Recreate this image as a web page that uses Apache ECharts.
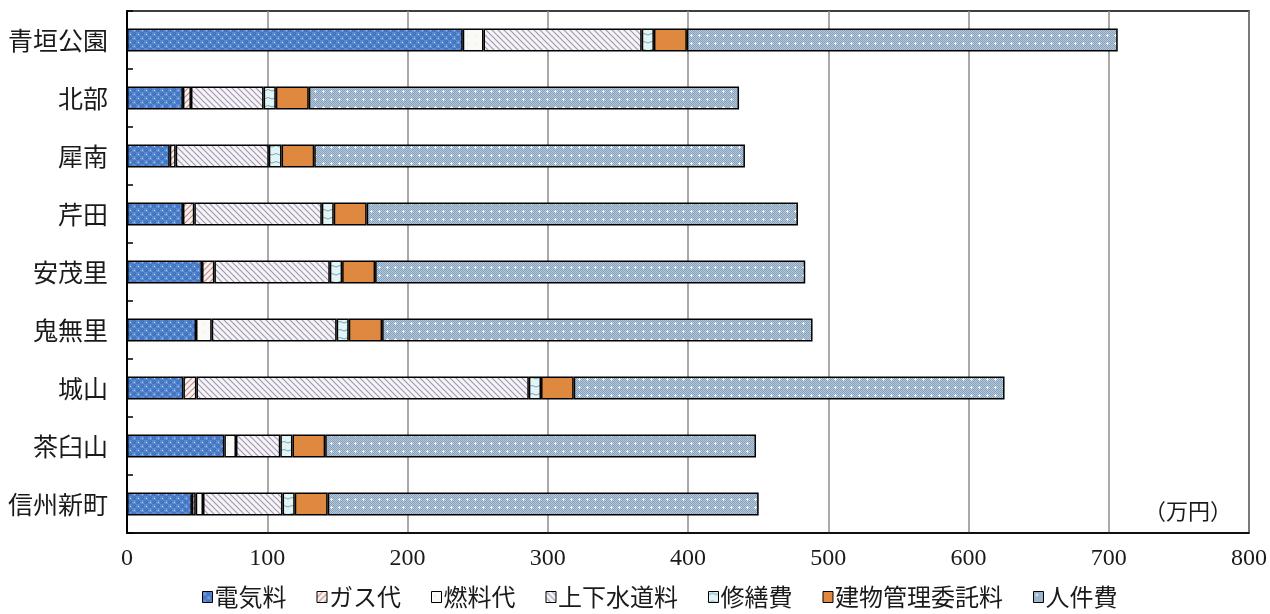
<!DOCTYPE html>
<html>
<head>
<meta charset="utf-8">
<script src="https://cdn.jsdelivr.net/npm/echarts@6/dist/echarts.min.js"></script>
<style>
  html, body { margin: 0; padding: 0; background: #fff; }
  #chart { width: 1270px; height: 614px; }
</style>
</head>
<body>
<div id="chart"></div>
<script>
// 施設ごとの経費内訳（万円）
const categories = ['青垣公園', '北部', '犀南', '芹田', '安茂里', '鬼無里', '城山', '茶臼山', '信州新町'];
const seriesNames = ['電気料', 'ガス代', '燃料代', '上下水道料', '修繕費', '建物管理委託料', '人件費'];
const denki  = [239.4, 39.9, 30.5, 39.9, 53.5, 49.2, 40.2, 69.4, 46.3];
const gas    = [0, 5.7, 4.2, 8.1, 8.8, 0, 9.3, 0, 2.7];
const nenryo = [14.8, 0, 0, 0, 0, 11.2, 0, 8.3, 5.2];
const suido  = [112.8, 51.8, 66.4, 90.9, 82.3, 89.1, 237.0, 31.6, 56.7];
const shuzen = [8.7, 8.7, 9.1, 8.5, 8.8, 8.6, 8.7, 8.7, 8.7];
const kanri  = [23.5, 23.5, 23.3, 23.5, 23.5, 23.8, 23.3, 23.3, 23.5];
const jinken = [307.2, 306.8, 307.1, 307.5, 306.7, 306.9, 307.2, 307.2, 307.3];
const xTicks = [0, 100, 200, 300, 400, 500, 600, 700, 800];

// パターン用のキャンバス
function makePattern(size, draw) {
  const c = document.createElement('canvas')
  c.width = size; c.height = size
  draw(c.getContext('2d'), size)
  return { image: c, repeat: 'repeat' }
}

const patterns = [
  // 電気料：青地に白い点
  makePattern(8, (g, s) => {
    g.fillStyle = '#4678c2'; g.fillRect(0, 0, s, s)
    g.fillStyle = '#5a8acf'; g.fillRect(0, 0, 4, 4); g.fillRect(4, 4, 4, 4)
    g.fillStyle = '#c4d8f4'; g.fillRect(2, 2, 1, 1); g.fillRect(6, 6, 1, 1)
  }),
  // ガス代：斜線 /
  makePattern(6, (g, s) => {
    g.fillStyle = '#fbf3f2'; g.fillRect(0, 0, s, s)
    g.strokeStyle = '#c08c86'; g.lineWidth = 1.2
    g.beginPath()
    g.moveTo(0, s); g.lineTo(s, 0)
    g.moveTo(-1, 1); g.lineTo(1, -1)
    g.moveTo(s - 1, s + 1); g.lineTo(s + 1, s - 1)
    g.stroke()
  }),
  // 燃料代：白地に小さな点
  makePattern(8, (g, s) => {
    g.fillStyle = '#fafaf6'; g.fillRect(0, 0, s, s)
    g.fillStyle = '#d8d8d0'; g.fillRect(3, 4, 1, 1)
  }),
  // 上下水道料：斜線 \
  makePattern(6, (g, s) => {
    g.fillStyle = '#f7f4f8'; g.fillRect(0, 0, s, s)
    g.strokeStyle = '#a29ab2'; g.lineWidth = 1.2
    g.beginPath()
    g.moveTo(0, 0); g.lineTo(s, s)
    g.moveTo(s - 1, -1); g.lineTo(s + 1, 1)
    g.moveTo(-1, s - 1); g.lineTo(1, s + 1)
    g.stroke()
  }),
  // 修繕費：水色に波
  makePattern(8, (g, s) => {
    g.fillStyle = '#e2f4f6'; g.fillRect(0, 0, s, s)
    g.strokeStyle = '#78a8b0'; g.lineWidth = 1
    g.beginPath()
    g.moveTo(0, 3); g.quadraticCurveTo(4, 0, 8, 3)
    g.stroke()
  }),
  // 建物管理委託料：橙
  '#de8840',
  // 人件費：灰青の網目に白い点
  makePattern(8, (g, s) => {
    g.fillStyle = '#b2c7da'; g.fillRect(0, 0, s, s)
    g.fillStyle = '#8aa2ba'
    for (let y = 0; y < s; y++) for (let x = 0; x < s; x++) if ((x + y) % 2 === 0) g.fillRect(x, y, 1, 1)
    g.fillStyle = '#eef6fc'; g.fillRect(3, 2, 1, 3); g.fillRect(2, 3, 3, 1)
  })
]

const values = [denki, gas, nenryo, suido, shuzen, kanri, jinken]

const chart = echarts.init(document.getElementById('chart'))
const option = {
  animation: false,
  grid: {
    left: 127, right: 19, top: 11, bottom: 81,
    show: true, borderColor: '#000', borderWidth: 1.5
  },
  legend: {
    bottom: 0,
    left: 197,
    icon: 'rect',
    itemWidth: 10,
    itemHeight: 11,
    itemGap: 30,
    itemStyle: { borderColor: '#000', borderWidth: 1 },
    textStyle: { fontFamily: 'Noto Sans CJK JP', fontSize: 24, color: '#1a1a1a', padding: [0, 0, 0, -3] },
    data: seriesNames
  },
  xAxis: {
    type: 'value',
    min: 0, max: 800, interval: 100,
    axisLine: { show: true, lineStyle: { color: '#000', width: 1.5 } },
    axisTick: { show: false },
    splitLine: { show: true, lineStyle: { color: '#8c8c8c', width: 1.5 } },
    axisLabel: {
      margin: 14,
      fontFamily: 'Liberation Serif', fontSize: 24, color: '#1a1a1a',
      formatter: v => xTicks.includes(v) ? String(v) : ''
    }
  },
  yAxis: {
    type: 'category',
    inverse: true,
    data: categories,
    axisLine: { show: true, lineStyle: { color: '#000', width: 2 } },
    axisTick: { show: true, inside: true, length: 6, lineStyle: { color: '#000', width: 1.5 } },
    axisLabel: { margin: 19, fontFamily: 'Noto Sans CJK JP', fontSize: 25, color: '#1a1a1a' }
  },
  graphic: [{
    type: 'text',
    right: 38, bottom: 92,
    style: { text: '（万円）', font: '22px "Noto Sans CJK JP"', fill: '#1a1a1a' }
  }],
  series: seriesNames.map((name, i) => ({
    name: name,
    type: 'bar',
    stack: 'total',
    barWidth: 23,
    itemStyle: { color: patterns[i], borderColor: '#000', borderWidth: 1.5 },
    emphasis: { disabled: true },
    data: values[i].map(v => v === 0 ? '-' : v)
  }))
}
chart.setOption(option)
window.addEventListener('resize', () => { chart.resize() })
</script>
</body>
</html>
